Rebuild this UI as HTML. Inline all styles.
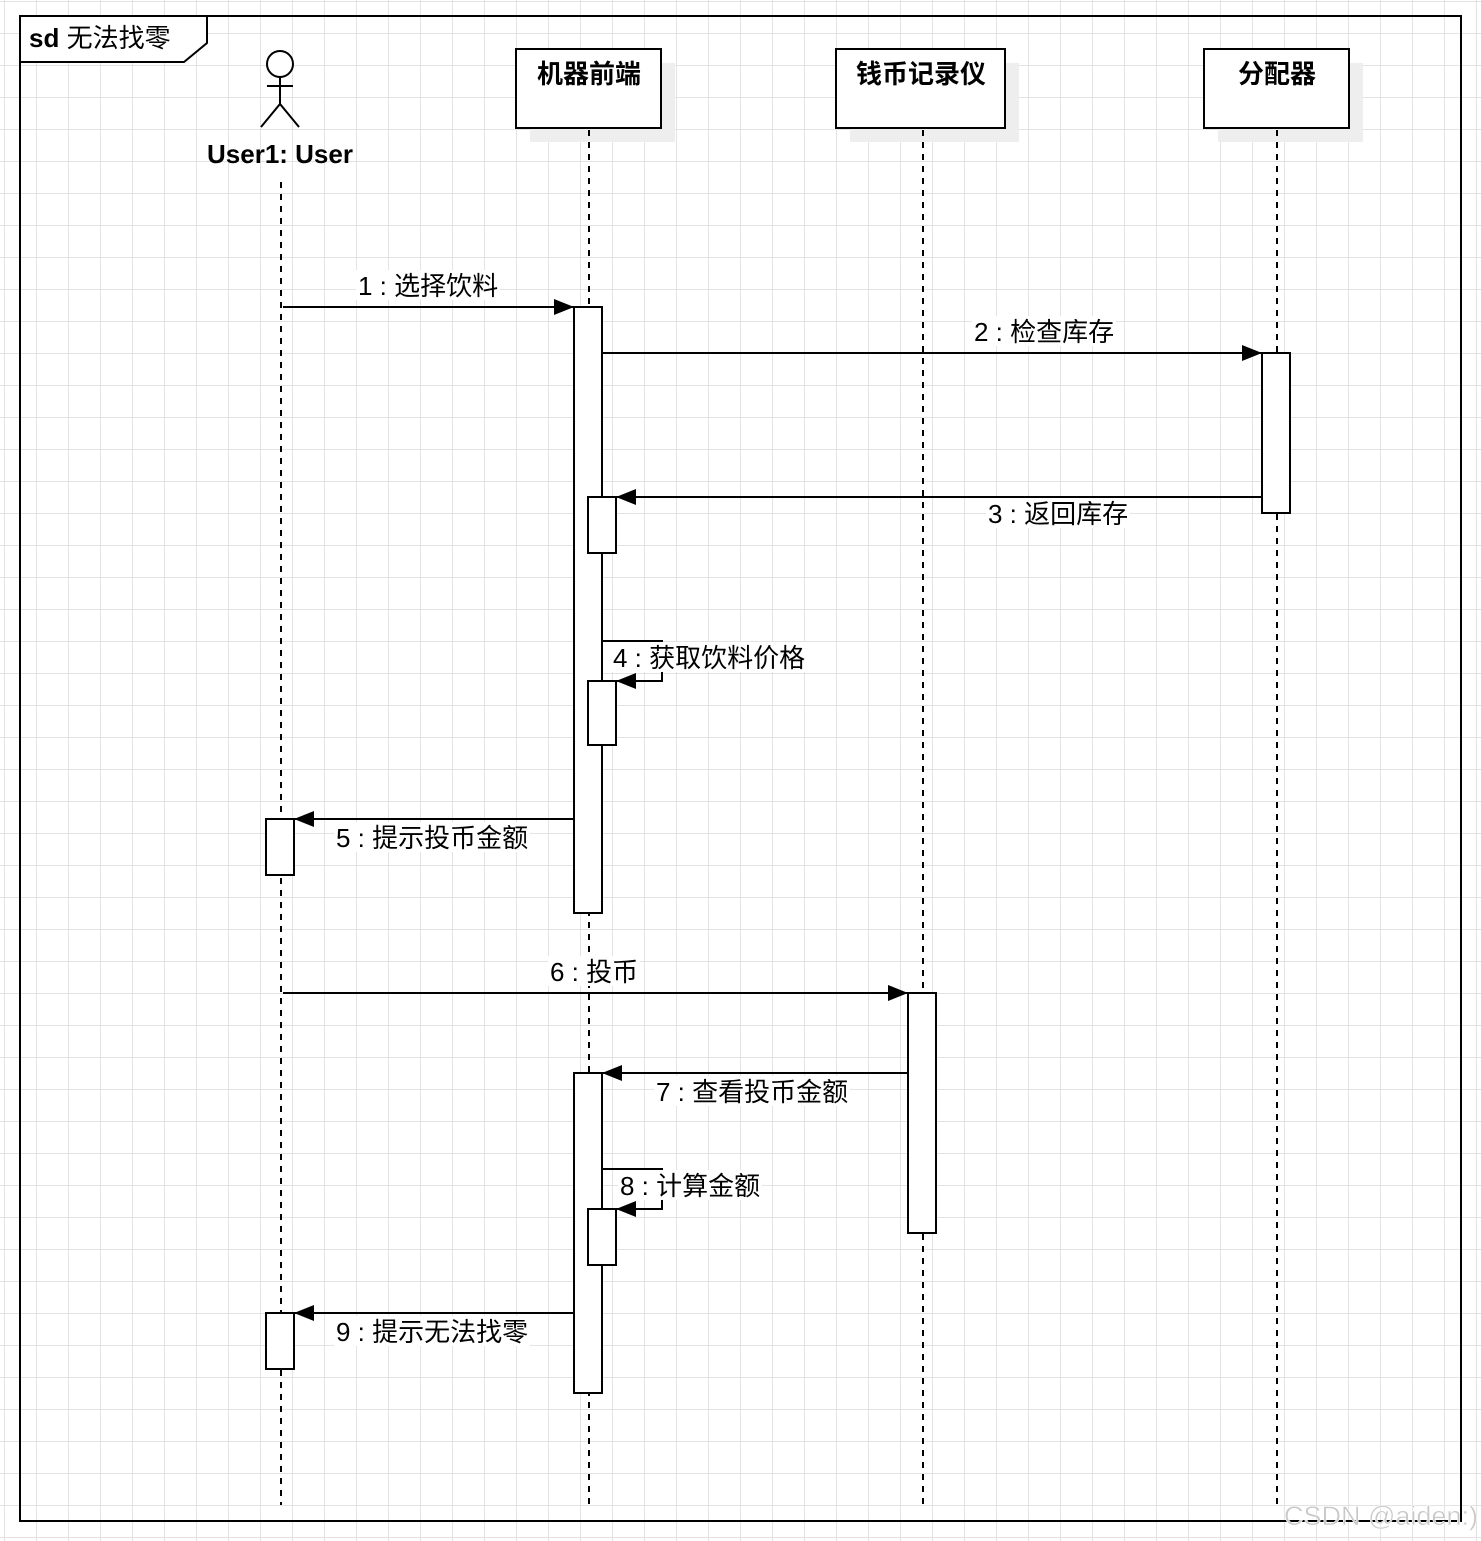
<!DOCTYPE html>
<html><head><meta charset="utf-8"><style>
html,body{margin:0;padding:0;background:#fff}
svg{display:block}
text{font-family:"Liberation Sans","Noto Sans CJK SC",sans-serif;fill:#000}
.m{font-size:26px}
.b{font-size:26px;font-weight:bold}
</style></head><body>
<svg width="1481" height="1541" viewBox="0 0 1481 1541" xmlns="http://www.w3.org/2000/svg">
<defs>
<pattern id="g" x="4" y="1" width="32" height="32" patternUnits="userSpaceOnUse">
<path d="M0 0H32M0 0V32" stroke="#e3e3e3" stroke-width="2" fill="none"/>
</pattern>
<marker id="ar" markerWidth="22" markerHeight="18" refX="20" refY="8" orient="auto" markerUnits="userSpaceOnUse">
<path d="M0 0L20 8L0 16Z" fill="#000"/>
</marker>
</defs>
<rect width="1481" height="1541" fill="url(#g)"/>
<rect x="20" y="16" width="1441" height="1505" fill="none" stroke="#000" stroke-width="2"/>
<path d="M20 16H207V43L184 62H20Z" fill="#fff" stroke="#000" stroke-width="2"/>
<text x="29" y="47" style="font-size:26px"><tspan font-weight="bold">sd</tspan> 无法找零</text>

<g stroke="#000" stroke-width="2" fill="none">
<circle cx="280" cy="64" r="13" fill="#fff"/>
<path d="M280 77V104M267 86H293M261 127L280 104L299 127"/>
</g>
<text x="280" y="163" class="b" text-anchor="middle">User1: User</text>

<rect x="530" y="63" width="145" height="79" fill="#eee"/>
<rect x="850" y="63" width="169" height="79" fill="#eee"/>
<rect x="1218" y="63" width="145" height="79" fill="#eee"/>
<rect x="516" y="49" width="145" height="79" fill="#fff" stroke="#000" stroke-width="2"/>
<rect x="836" y="49" width="169" height="79" fill="#fff" stroke="#000" stroke-width="2"/>
<rect x="1204" y="49" width="145" height="79" fill="#fff" stroke="#000" stroke-width="2"/>
<text x="589" y="83" class="b" text-anchor="middle">机器前端</text>
<text x="921" y="83" class="b" text-anchor="middle">钱币记录仪</text>
<text x="1277" y="83" class="b" text-anchor="middle">分配器</text>

<g stroke="#000" stroke-width="2" stroke-dasharray="6 6">
<path d="M281 182V1505M589 130V1505M923 130V1505M1277 130V1505"/>
</g>

<g fill="#fff" stroke="#000" stroke-width="2">
<rect x="574" y="307" width="28" height="606"/>
<rect x="1262" y="353" width="28" height="160"/>
<rect x="588" y="497" width="28" height="56"/>
<rect x="588" y="681" width="28" height="64"/>
<rect x="266" y="819" width="28" height="56"/>
<rect x="908" y="993" width="28" height="240"/>
<rect x="574" y="1073" width="28" height="320"/>
<rect x="588" y="1209" width="28" height="56"/>
<rect x="266" y="1313" width="28" height="56"/>
</g>

<g stroke="#000" stroke-width="2" fill="none" marker-end="url(#ar)">
<path d="M283 307H574"/>
<path d="M602 353H1262"/>
<path d="M1262 497H616"/>
<path d="M602 641H662V681H616"/>
<path d="M574 819H294"/>
<path d="M283 993H908"/>
<path d="M908 1073H602"/>
<path d="M602 1169H662V1209H616"/>
<path d="M574 1313H294"/>
</g>

<g>
<rect x="356" y="270" width="144" height="30" fill="#fff"/>
<text x="358" y="295" class="m">1 : 选择饮料</text>
<rect x="972" y="316" width="144" height="30" fill="#fff"/>
<text x="974" y="341" class="m">2 : 检查库存</text>
<rect x="986" y="498" width="144" height="30" fill="#fff"/>
<text x="988" y="523" class="m">3 : 返回库存</text>
<rect x="611" y="642" width="196" height="30" fill="#fff"/>
<text x="613" y="667" class="m">4 : 获取饮料价格</text>
<rect x="334" y="822" width="196" height="30" fill="#fff"/>
<text x="336" y="847" class="m">5 : 提示投币金额</text>
<rect x="548" y="956" width="92" height="30" fill="#fff"/>
<text x="550" y="981" class="m">6 : 投币</text>
<rect x="654" y="1076" width="196" height="30" fill="#fff"/>
<text x="656" y="1101" class="m">7 : 查看投币金额</text>
<rect x="618" y="1170" width="144" height="30" fill="#fff"/>
<text x="620" y="1195" class="m">8 : 计算金额</text>
<rect x="334" y="1316" width="196" height="30" fill="#fff"/>
<text x="336" y="1341" class="m">9 : 提示无法找零</text>
</g>

<text x="1284" y="1525" style="font-size:27px;fill:#c8c8c8;stroke:#fff;stroke-width:0.5">CSDN @aiden:)</text>
</svg>
</body></html>
